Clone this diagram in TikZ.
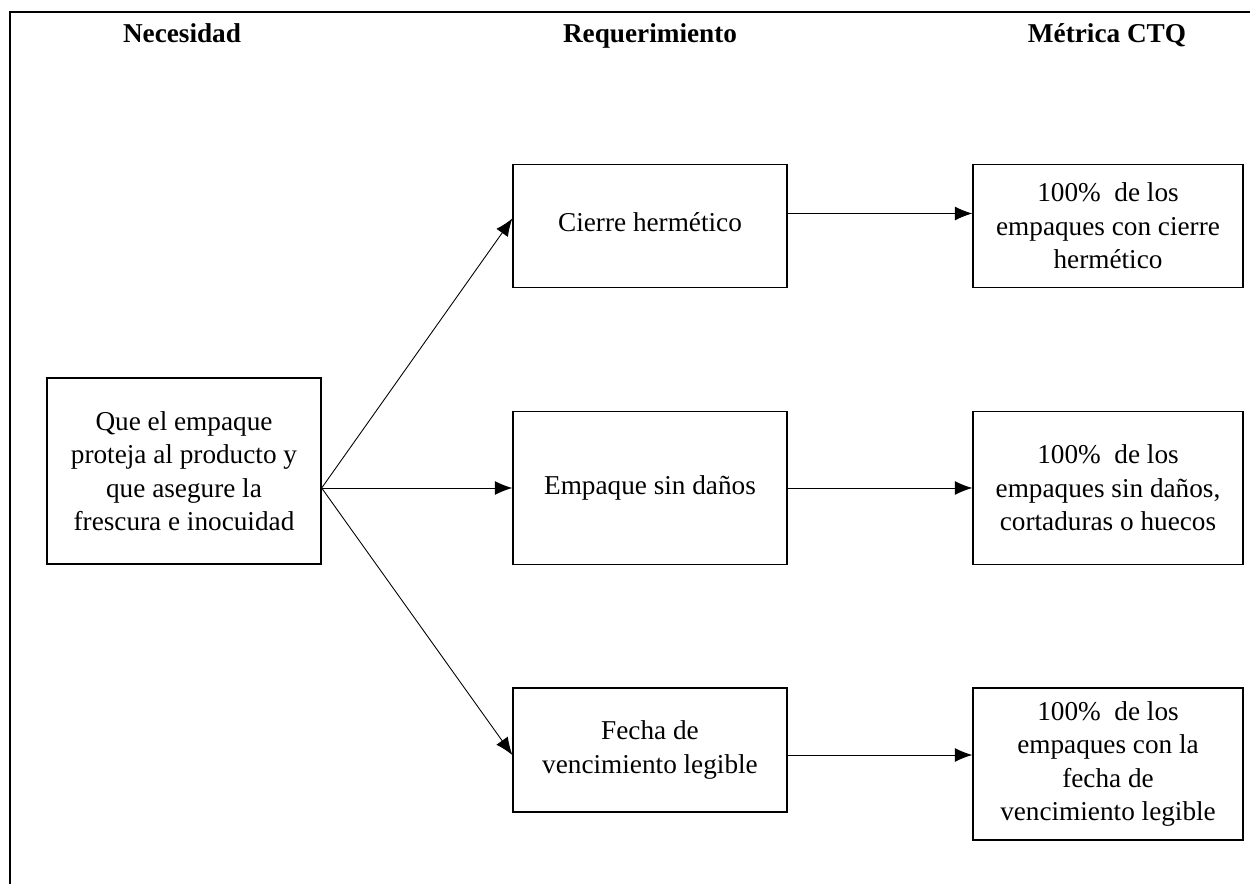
\documentclass[tikz,border=0pt]{standalone}
\usepackage{fontspec}
\setmainfont{Liberation Serif}
\usetikzlibrary{arrows.meta}

\tikzset{
  caja/.style={draw,line width=0.8pt,align=center,inner sep=2pt,
    font=\fontsize{15.5}{19}\selectfont},
  titulo/.style={anchor=base,font=\fontsize{15.5}{19}\selectfont\bfseries},
  flecha/.style={-{Latex[length=10pt,width=8pt]},line width=0.5pt}
}

\begin{document}
\begin{tikzpicture}[x=0.02cm,y=-0.02cm]
\useasboundingbox (0,0) rectangle (1250,884);
% marco
\draw[line width=0.9pt] (10,884) -- (10,12) -- (1250,12);
% titulos
\node[titulo] (tnec) at (182,43) {Necesidad};
\node[titulo] (treq) at (650,43) {Requerimiento};
\node[titulo] (tctq) at (1107,43) {Métrica CTQ};
% necesidad
\node[caja,minimum width=5.48cm,minimum height=3.72cm] (nec) at (184,471)
  {Que el empaque\\proteja al producto y\\que asegure la\\frescura e inocuidad};
% requerimientos
\node[caja,minimum width=5.48cm,minimum height=2.46cm] (cierre) at (650,226)
  {\raisebox{4pt}{Cierre hermético}};
\node[caja,minimum width=5.48cm,minimum height=3.06cm] (empaque) at (650,488)
  {Empaque sin daños};
\node[caja,minimum width=5.48cm,minimum height=2.48cm] (fecha) at (650,750)
  {Fecha de\\vencimiento legible};
% metricas
\node[caja,minimum width=5.4cm,minimum height=2.46cm] (m1) at (1108,226)
  {100\%\ \ de los\\empaques con cierre\\hermético};
\node[caja,minimum width=5.4cm,minimum height=3.06cm] (m2) at (1108,488)
  {100\%\ \ de los\\empaques sin daños,\\cortaduras o huecos};
\node[caja,minimum width=5.4cm,minimum height=3.04cm] (m3) at (1108,764)
  {100\%\ \ de los\\empaques con la\\fecha de\\vencimiento legible};
% conectores
\coordinate (hub) at (nec.east |- empaque.west);
\draw[flecha] (hub) -- ([yshift=1.5mm]cierre.west);
\draw[flecha] (hub) -- (empaque.west);
\draw[flecha] (hub) -- ([yshift=-1mm]fecha.west);
\draw[flecha] ([yshift=2.5mm]cierre.east) -- ([yshift=2.5mm]cierre.east -| m1.west);
\draw[flecha] (empaque.east) -- (m2.west);
\draw[flecha] ([yshift=-1mm]fecha.east) -- ([yshift=-1mm]fecha.east -| m3.west);
\end{tikzpicture}
\end{document}
